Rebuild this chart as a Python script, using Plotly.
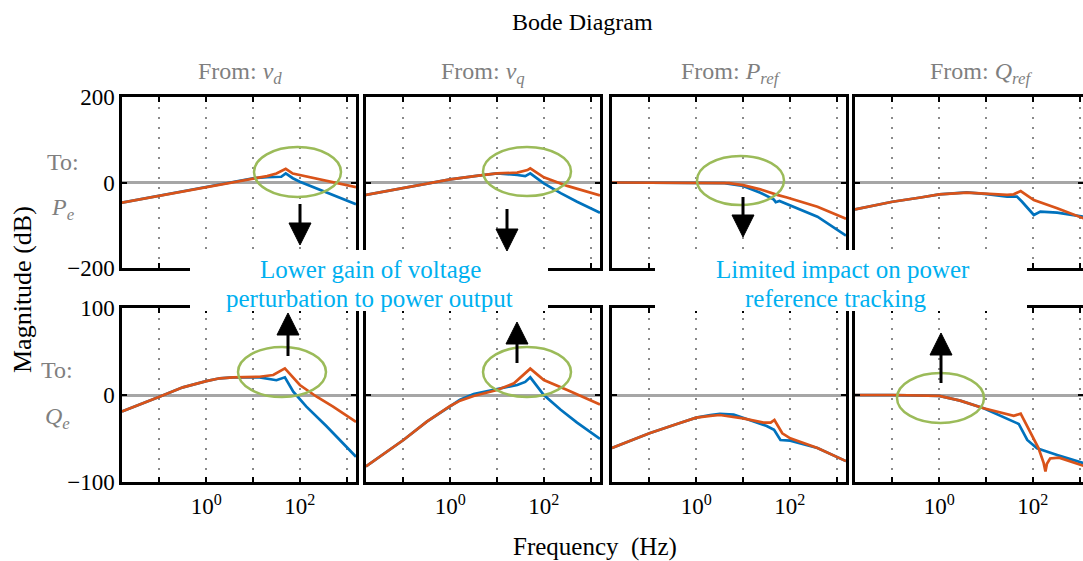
import plotly.graph_objects as go

W, H = 1083, 561
BLUE = "#0072BD"
ORANGE = "#D95319"
GREEN = "#9BBB59"
NOTE = "#00B0F0"
GRAYTXT = "#7F7F7F"
FONT = "Liberation Serif"

# ---------------- data (frequency in Hz, magnitude in dB) ----------------
# Row 1: To Pe
F_PE_VD_B = [0.0158, 1, 10, 20, 40, 50, 70.8, 100, 224, 513, 1585]
DB_PE_VD_B = [-47, -10, 10, 12.5, 13.5, 21.5, 10, 2, -13.6, -29, -51]
F_PE_VD_O = [0.0158, 1, 10, 20, 31.6, 50, 70.8, 100, 269, 513, 1585]
DB_PE_VD_O = [-47, -10, 10, 15, 21, 32, 21, 17.5, 7.4, 0, -11]

F_PE_VQ_B = [0.0158, 0.1, 1, 4, 10, 27, 40, 51.3, 100, 229, 513, 1585]
DB_PE_VQ_B = [-29, -13.6, 7.4, 16, 21.4, 17.5, 15, 21.4, -2, -25, -45, -71]
F_PE_VQ_O = [0.0158, 0.1, 1, 4, 10, 27, 44.7, 51.3, 100, 316, 1585]
DB_PE_VQ_O = [-29, -13.6, 7.4, 16, 21.4, 23, 29, 33, 12, -8, -30]

F_PE_PR_B = [0.0158, 1, 2.5, 4, 10, 23.4, 45.7, 50, 60, 389, 1585]
DB_PE_PR_B = [0, 0, -0.5, -1.5, -8, -24, -40, -46, -43, -80, -124]
F_PE_PR_O = [0.0158, 1, 2.5, 5, 10, 23.4, 53.7, 87, 389, 1585]
DB_PE_PR_O = [0, 0, -0.5, -1.5, -6, -16, -29, -35, -56.5, -85]

F_PE_QR_B = [0.0158, 0.1, 0.4, 1, 3.9, 10.5, 28.2, 45.7, 58.9, 105, 145, 331, 1230]
DB_PE_QR_B = [-63, -45, -35, -27.7, -23, -27, -33, -33, -45, -76, -68, -70.5, -80]
F_PE_QR_O = [0.0158, 0.1, 0.4, 1, 3.9, 10.5, 28.2, 39, 55, 105, 331, 1230]
DB_PE_QR_O = [-63, -45, -35, -27.7, -23.8, -27, -29, -27.7, -20, -41, -60, -84]

# Row 2: To Qe
F_QE_VD_B = [0.0158, 0.037, 0.1, 0.316, 1, 1.95, 3.7, 13.8, 31.6, 47.9, 72.4, 138, 372, 1585]
DB_QE_VD_B = [-19, -11.5, -2, 8.8, 16, 19.2, 20.3, 20.3, 17, 20.3, 3.8, -13.4, -36, -71]
F_QE_VD_O = [0.0158, 0.037, 0.1, 0.316, 1, 1.95, 3.7, 13.8, 27, 47.9, 100, 229, 513, 1585]
DB_QE_VD_O = [-19, -11.5, -2, 8.8, 16, 19.2, 20.3, 21, 23, 30.6, 11.5, -2, -13.4, -31]

F_QE_VQ_B = [0.0158, 0.1, 0.316, 1, 1.62, 3.16, 10, 27, 40, 51.3, 100, 229, 513, 1585]
DB_QE_VQ_B = [-82, -51.7, -30.6, -12.6, -5.5, 1.1, 6.7, 11.5, 15, 20.3, 0, -17, -31.8, -50.5]
F_QE_VQ_O = [0.0158, 0.1, 0.316, 1, 1.62, 3.16, 10, 23, 51.3, 100, 316, 1585]
DB_QE_VQ_O = [-82, -51.7, -30.6, -12.6, -6.5, -1.1, 5.7, 13.4, 30.3, 17.2, 5.7, -11]

F_QE_PR_B = [0.0158, 0.1, 0.4, 1, 2, 3.2, 6.3, 14.4, 32, 46, 63, 102, 389, 1585]
DB_QE_PR_B = [-61, -44, -33, -26, -23, -21.8, -22.5, -29.5, -35.6, -40, -51.7, -52.5, -61, -76]
F_QE_PR_O = [0.0158, 0.1, 0.4, 1, 2, 3.2, 10, 27.5, 39, 46.8, 69, 102, 389, 1585]
DB_QE_PR_O = [-61, -44, -33, -26, -24, -23, -26.8, -31.8, -31.8, -28.7, -44, -49.8, -61, -76]

F_QE_QR_B = [0.0158, 0.1, 1, 2.8, 8.9, 28.2, 50, 75.9, 123, 331, 1230]
DB_QE_QR_B = [0, 0, -1, -6.5, -15.3, -26.8, -33.3, -51.7, -61.3, -69, -78.5]
F_QE_QR_O = [0.0158, 0.1, 1, 2.8, 8.9, 28.2, 39, 55, 89, 132, 170, 186, 200, 234, 363, 1023, 1230]
DB_QE_QR_O = [0, 0, -1, -6.5, -15.3, -22, -24, -21.5, -44, -61, -78, -88, -79, -73, -72, -80, -81.5]

SERIES = [
    (F_PE_VD_B, DB_PE_VD_B, F_PE_VD_O, DB_PE_VD_O),
    (F_PE_VQ_B, DB_PE_VQ_B, F_PE_VQ_O, DB_PE_VQ_O),
    (F_PE_PR_B, DB_PE_PR_B, F_PE_PR_O, DB_PE_PR_O),
    (F_PE_QR_B, DB_PE_QR_B, F_PE_QR_O, DB_PE_QR_O),
    (F_QE_VD_B, DB_QE_VD_B, F_QE_VD_O, DB_QE_VD_O),
    (F_QE_VQ_B, DB_QE_VQ_B, F_QE_VQ_O, DB_QE_VQ_O),
    (F_QE_PR_B, DB_QE_PR_B, F_QE_PR_O, DB_QE_PR_O),
    (F_QE_QR_B, DB_QE_QR_B, F_QE_QR_O, DB_QE_QR_O),
]

X_TICKS = [0.1, 1, 10, 100, 1000]
X_TICK_TEXT = ["", "10<sup>0</sup>", "", "10<sup>2</sup>", ""]
Y_TICKS = [[-200, 0, 200], [-100, 0, 100]]
Y_RANGES = [[-200, 200], [-100, 100]]
FROM_LABELS = ["From: <i>v<sub>d</sub></i>", "From: <i>v<sub>q</sub></i>",
               "From: <i>P<sub>ref</sub></i>", "From: <i>Q<sub>ref</sub></i>"]
TO_LABELS = ["<i>P<sub>e</sub></i>", "<i>Q<sub>e</sub></i>"]

# ---------------- layout geometry (target pixels) ----------------
COLS = [(122, 356), (366, 600), (612, 846), (855, 1083)]
ROWS = [(97, 268), (308, 482)]
DEC = 46.8
X_RANGES = [[-1.8, 3.2]] * 3 + [[-1.8, -1.8 + (1083 - 855) / DEC]]


def px(x):
    return x / W


def py(y):
    return 1 - y / H


fig = go.Figure()
layout = dict(width=W, height=H, autosize=False,
              margin=dict(l=0, r=0, t=0, b=0, pad=0, autoexpand=False),
              paper_bgcolor="white", plot_bgcolor="white", showlegend=False,
              font=dict(family=FONT, size=22, color="black"))
shapes = []
annotations = []

for r in range(2):
    for c in range(4):
        k = r * 4 + c + 1
        xn = "x" if k == 1 else f"x{k}"
        yn = "y" if k == 1 else f"y{k}"
        xa = "xaxis" if k == 1 else f"xaxis{k}"
        ya = "yaxis" if k == 1 else f"yaxis{k}"
        fb, db, fo, do = SERIES[k - 1]
        fig.add_trace(go.Scatter(x=fb, y=db, mode="lines", xaxis=xn, yaxis=yn,
                                 line=dict(color=BLUE, width=2.7)))
        fig.add_trace(go.Scatter(x=fo, y=do, mode="lines", xaxis=xn, yaxis=yn,
                                 line=dict(color=ORANGE, width=2.7)))
        x0, x1 = COLS[c]
        y0, y1 = ROWS[r]
        layout[xa] = dict(type="log", range=X_RANGES[c], domain=[px(x0), min(1, px(x1))],
                          anchor=yn, tickvals=X_TICKS, ticktext=X_TICK_TEXT,
                          showticklabels=(r == 1), ticks="inside", ticklen=5,
                          tickwidth=1.5, tickcolor="black", showline=True,
                          linecolor="black", linewidth=2.5, mirror="ticks",
                          showgrid=True, gridcolor="#8a8a8a", gridwidth=1.5,
                          griddash="2px,8px", zeroline=False, automargin=False,
                          ticklabelstandoff=2,
                          tickfont=dict(size=23, color="black", family=FONT))
        layout[ya] = dict(range=Y_RANGES[r], domain=[py(y1), py(y0)], anchor=xn,
                          tickvals=Y_TICKS[r], showticklabels=(c == 0),
                          ticks="inside", ticklen=5, tickwidth=1.5,
                          tickcolor="black", showline=True, linecolor="black",
                          linewidth=2.5, mirror="ticks", showgrid=False,
                          zeroline=True, zerolinecolor="#a6a6a6",
                          zerolinewidth=2.5, automargin=False,
                          tickfont=dict(size=23, color="black", family=FONT))
        shapes.append(dict(type="line", xref=xn, yref=yn,
                           x0=0, x1=0, y0=Y_RANGES[r][0], y1=Y_RANGES[r][1],
                           layer="below",
                           line=dict(color="#a6a6a6", width=2.5)))

# white boxes behind the notes
for (a, b) in [(190, 548), (655, 1027)]:
    shapes.append(dict(type="rect", xref="paper", yref="paper",
                       x0=px(a), x1=px(b), y0=py(311), y1=py(250),
                       fillcolor="white", line=dict(width=0), layer="above"))

# green ellipses
for (a, b, t, u) in [(254, 341, 147, 197), (483, 571, 147, 196), (697, 784, 156, 205),
                     (238, 326, 347, 397), (483, 571, 347, 397), (897, 984, 373, 423)]:
    shapes.append(dict(type="circle", xref="paper", yref="paper",
                       x0=px(a), x1=px(b), y0=py(u), y1=py(t),
                       line=dict(color=GREEN, width=2.5), layer="above"))

# black arrows (x, tail y, tip y)
for (ax, ty, tip) in [(300, 204, 245), (507, 209, 251), (743, 197, 237),
                      (288, 356, 313), (517, 363, 322), (941, 383, 333)]:
    d = 1 if tip > ty else -1
    base = tip - d * 22
    shapes.append(dict(type="line", xref="paper", yref="paper",
                       x0=px(ax), x1=px(ax), y0=py(ty), y1=py(base),
                       line=dict(color="black", width=3), layer="above"))
    path = (f"M {px(ax - 11):.5f} {py(base):.5f} L {px(ax + 11):.5f} {py(base):.5f} "
            f"L {px(ax):.5f} {py(tip):.5f} Z")
    shapes.append(dict(type="path", xref="paper", yref="paper", path=path,
                       fillcolor="black", line=dict(color="black", width=1),
                       layer="above"))


def ann(text, x, y, size=24, color="black", angle=0):
    annotations.append(dict(text=text, x=px(x), y=py(y), xref="paper", yref="paper",
                            showarrow=False, xanchor="center", yanchor="middle",
                            textangle=angle,
                            font=dict(family=FONT, size=size, color=color)))


ann("Bode Diagram", 582, 22)
for (lab, cx) in zip(FROM_LABELS, [240, 483, 731, 981]):
    ann(lab, cx, 73, color=GRAYTXT)
ann("To:", 63, 162, color=GRAYTXT)
ann(TO_LABELS[0], 63, 209, color=GRAYTXT)
ann("To:", 57, 370, color=GRAYTXT)
ann(TO_LABELS[1], 57, 418, color=GRAYTXT)
ann("Magnitude (dB)", 22, 290, size=26, angle=-90)
ann("Frequency  (Hz)", 595, 547, size=25)
ann("Lower gain of voltage", 370, 269, size=25, color=NOTE)
ann("perturbation to power output", 369, 298, size=25, color=NOTE)
ann("Limited impact on power", 843, 269, size=25, color=NOTE)
ann("reference tracking", 836, 298, size=25, color=NOTE)

layout["shapes"] = shapes
layout["annotations"] = annotations
fig.update_layout(**layout)
fig.write_html(
    "out.html",
    config={"displayModeBar": False},
    post_script="document.documentElement.style.overflow='hidden';"
                "document.body.style.margin='0px';document.body.style.overflow='hidden';",
)
